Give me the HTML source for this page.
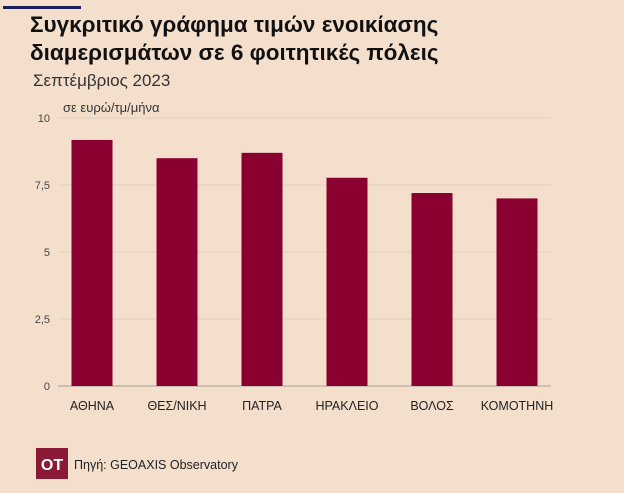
<!DOCTYPE html>
<html><head><meta charset="utf-8"><style>
body{margin:0;background:#f4dfcd;width:624px;height:493px;overflow:hidden;font-family:"Liberation Sans","DejaVu Sans",sans-serif}
svg{position:absolute;left:0;top:0}
</style></head><body>
<svg width="624" height="493" id="c">
<rect x="3" y="6" width="78" height="3" fill="#1a1f5c"/>
<text x="30" y="32" font-size="22.5" font-weight="bold" fill="#111">Συγκριτικό γράφημα τιμών ενοικίασης</text>
<text x="30" y="60" font-size="22.5" font-weight="bold" fill="#111">διαμερισμάτων σε 6 φοιτητικές πόλεις</text>
<text x="33" y="86" font-size="17" fill="#333">Σεπτέμβριος 2023</text>
<text x="63" y="112" font-size="13" fill="#333">σε ευρώ/τμ/μήνα</text>
<g id="grid"></g><g id="bars"></g><g id="xl"></g>
<rect x="36" y="448" width="32" height="31" fill="#8a1a36"/>
<text x="52" y="470" font-size="16" font-weight="bold" fill="#fff" text-anchor="middle">OT</text>
<text x="74" y="469" font-size="12.5" fill="#222">Πηγή: GEOAXIS Observatory</text>
</svg>
<script>
const categories=["ΑΘΗΝΑ","ΘΕΣ/ΝΙΚΗ","ΠΑΤΡΑ","ΗΡΑΚΛΕΙΟ","ΒΟΛΟΣ","ΚΟΜΟΤΗΝΗ"];
const values=[9.18,8.5,8.7,7.77,7.2,7.0];
const ticks=[0,2.5,5,7.5,10];
const tickLabels=["0","2,5","5","7,5","10"];
const NS="http://www.w3.org/2000/svg";
const y=v=>386-v*26.8;
const x=i=>92+i*85;
function mk(t,a,p){const e=document.createElementNS(NS,t);for(const k in a)e.setAttribute(k,a[k]);document.getElementById(p).appendChild(e);return e;}
ticks.forEach((t,i)=>{
 const l=mk('line',{x1:58,x2:551,y1:y(t),y2:y(t),stroke:t===0?'#b9aca2':'#e2cfc0','stroke-width':t===0?1.2:1},'grid');
 
 
 const tx=mk('text',{x:50,y:y(t)+4,'font-size':11,fill:'#444','text-anchor':'end'},'grid');
 tx.textContent=tickLabels[i];
 
 
});
values.forEach((v,i)=>{
 const r=mk('rect',{x:x(i)-20.5,y:y(v),width:41,height:y(0)-y(v),fill:'#8a0030'},'bars');
 
 
 const t=mk('text',{x:x(i),y:410,'font-size':12.5,fill:'#222','text-anchor':'middle'},'xl');
 t.textContent=categories[i];
 
 
});
</script>
</body></html>
